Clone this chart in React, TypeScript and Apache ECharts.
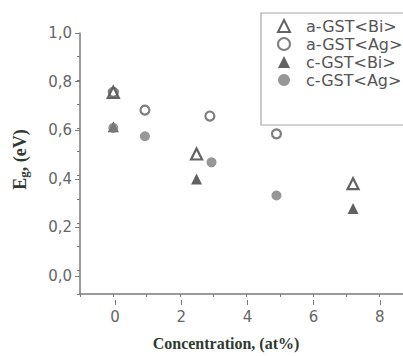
import React, { useEffect, useRef } from "react";
import * as echarts from "echarts";

const seriesNames = ["a-GST<Bi>", "a-GST<Ag>", "c-GST<Bi>", "c-GST<Ag>"];
const aBi: number[][] = [[0, 0.75], [2.5, 0.49], [7.2, 0.365]];
const aAg: number[][] = [[0, 0.75], [0.95, 0.675], [2.9, 0.65], [4.9, 0.575]];
const cBi: number[][] = [[0, 0.605], [2.5, 0.385], [7.2, 0.26]];
const cAg: number[][] = [[0, 0.6], [0.95, 0.565], [2.95, 0.455], [4.9, 0.315]];
const xTitle = "Concentration, (at%)";

const tickFont = "DejaVu Sans";
const serif = "Liberation Serif";

export default function App() {
  const ref = useRef<HTMLDivElement>(null);
  useEffect(() => {
    const chart = echarts.init(ref.current!, undefined, { renderer: "svg" });
    const axisColor = "#7a7a7a";
    chart.setOption({
      animation: false,
      backgroundColor: "#fff",
      grid: [
        { left: 80, right: 0, top: 33, bottom: 56 },
        { left: 115, right: 0, top: 33, bottom: 80 },
      ],
      graphic: [
        {
          type: "rect",
          shape: { x: 261, y: 13, width: 170, height: 112 },
          style: { fill: "none", stroke: "#a8a8a8", lineWidth: 1.2 },
        },
      ],
      legend: {
        orient: "vertical",
        left: 277,
        top: 18,
        padding: 0,
        itemWidth: 12,
        itemHeight: 12,
        itemGap: 2,
        data: seriesNames,
        textStyle: { fontFamily: tickFont, fontSize: 16, color: "#555", lineHeight: 12, padding: [0, 0, 0, 11] },
      },
      xAxis: [
        {
          gridIndex: 0,
          type: "value",
          min: -1,
          max: 8.7,
          interval: 1,
          axisLine: { onZero: false, lineStyle: { color: axisColor, width: 1.5 } },
          axisTick: { length: 3, lineStyle: { color: axisColor } },
          axisLabel: { show: false },
          splitLine: { show: false },
          name: xTitle,
          nameLocation: "middle",
          nameGap: 41,
          nameTextStyle: {
            fontFamily: serif,
            fontWeight: "bold",
            fontSize: 16,
            color: "#2f3a33",
            padding: [0, 31, 0, 0],
          },
        },
        {
          gridIndex: 1,
          type: "value",
          min: 0,
          max: 8.7,
          interval: 2,
          offset: 24,
          axisLine: { show: false, onZero: false },
          axisTick: { length: 5, lineStyle: { color: axisColor } },
          axisLabel: {
            margin: 9,
            fontFamily: tickFont,
            fontSize: 15,
            color: "#666",
            showMaxLabel: false,
            formatter: (v: number) => String(Math.round(v)),
          },
          splitLine: { show: false },
        },
      ],
      yAxis: [
        {
          gridIndex: 0,
          type: "value",
          min: -0.1,
          max: 1.0,
          interval: 0.1,
          axisLine: { onZero: false, lineStyle: { color: axisColor, width: 1.5 } },
          axisTick: { length: 3, lineStyle: { color: axisColor } },
          axisLabel: { show: false },
          splitLine: { show: false },
          name: "{e|E}{g|g}{e|, (eV)}",
          nameLocation: "middle",
          nameGap: 50,
          nameTextStyle: {
            padding: [0, 0, 0, 8],
            rich: {
              e: { fontFamily: serif, fontWeight: "bold", fontSize: 18, color: "#2f3a33", lineHeight: 20 },
              g: { fontFamily: serif, fontWeight: "bold", fontSize: 13, color: "#2f3a33", lineHeight: 20, verticalAlign: "bottom" },
            },
          },
        },
        {
          gridIndex: 1,
          type: "value",
          min: 0,
          max: 1.0,
          interval: 0.2,
          offset: 35,
          axisLine: { show: false, onZero: false },
          axisTick: { length: 5, lineStyle: { color: axisColor } },
          axisLabel: {
            margin: 8,
            fontFamily: tickFont,
            fontSize: 15,
            color: "#666",
            formatter: (v: number) => v.toFixed(1).replace(".", ","),
          },
          splitLine: { show: false },
        },
      ],
      series: [
        {
          name: seriesNames[0],
          type: "scatter",
          data: aBi,
          symbol: "triangle",
          symbolSize: 11,
          clip: false,
          z: 3,
          itemStyle: { color: "rgba(255,255,255,0)", borderColor: "#3c3c3c", borderWidth: 2.2 },
        },
        {
          name: seriesNames[1],
          type: "scatter",
          data: aAg,
          symbol: "circle",
          symbolSize: 9,
          clip: false,
          z: 3,
          itemStyle: { color: "rgba(255,255,255,0)", borderColor: "#5e5e5e", borderWidth: 2.2 },
        },
        {
          name: seriesNames[2],
          type: "scatter",
          data: cBi,
          symbol: "triangle",
          symbolSize: 11,
          clip: false,
          z: 2,
          itemStyle: { color: "#3a3a3a" },
        },
        {
          name: seriesNames[3],
          type: "scatter",
          data: cAg,
          symbol: "circle",
          symbolSize: 10,
          clip: false,
          z: 2,
          itemStyle: { color: "#7d7d7d" },
        },
      ],
    });
    return () => chart.dispose();
  }, []);
  return (
    <div
      ref={ref}
      style={{ position: "fixed", left: 0, top: 0, width: 403, height: 356 }}
    />
  );
}
